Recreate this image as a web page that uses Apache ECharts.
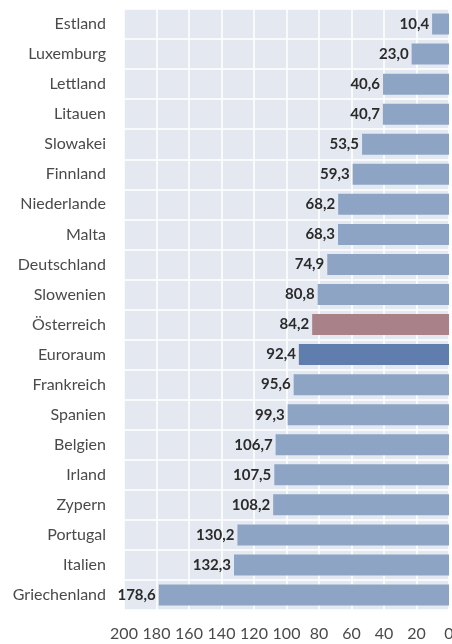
<!DOCTYPE html>
<html lang="de">
<head>
<meta charset="UTF-8">
<title>Staatsschulden</title>
<script src="https://cdn.jsdelivr.net/npm/echarts@6/dist/echarts.min.js"></script>
<style>
  html, body { margin: 0; padding: 0; background: #fff; }
  #main { width: 452px; height: 644px; }
</style>
</head>
<body>
<div id="main"></div>
<script>
// Länder von oben nach unten
var laender = ['Estland', 'Luxemburg', 'Lettland', 'Litauen', 'Slowakei', 'Finnland',
  'Niederlande', 'Malta', 'Deutschland', 'Slowenien', 'Österreich', 'Euroraum',
  'Frankreich', 'Spanien', 'Belgien', 'Irland', 'Zypern', 'Portugal', 'Italien', 'Griechenland'];
var werte = [10.4, 23.0, 40.6, 40.7, 53.5, 59.3, 68.2, 68.3, 74.9, 80.8, 84.2, 92.4,
  95.6, 99.3, 106.7, 107.5, 108.2, 130.2, 132.3, 178.6];
var xTicks = [0, 20, 40, 60, 80, 100, 120, 140, 160, 180, 200];

var farbeStd = '#8ea4c5';
var farben = { 'Österreich': '#a98289', 'Euroraum': '#607ead' };

var chart = echarts.init(document.getElementById('main'));

var option = {
  animation: false,
  textStyle: { fontFamily: 'Lato' },
  grid: {
    left: 124, right: 3, top: 9, bottom: 34,
    outerBoundsMode: 'none',
    show: true, backgroundColor: '#e4e9f1', borderWidth: 0
  },
  xAxis: {
    type: 'value',
    inverse: true,
    min: xTicks[0],
    max: xTicks[xTicks.length - 1],
    interval: 20,
    axisLine: { show: false },
    axisTick: { show: false },
    axisLabel: { color: '#4a4a4a', fontSize: 16, margin: 16 },
    splitLine: { lineStyle: { color: '#fff', width: 1.5 } }
  },
  yAxis: {
    type: 'category',
    inverse: true,
    data: laender,
    axisLine: { show: false },
    axisTick: { show: false },
    axisLabel: { color: '#4a4a4a', fontSize: 16, margin: 18 },
    splitLine: { show: true, lineStyle: { color: '#fff', width: 1.5 } }
  },
  series: [{
    type: 'bar',
    barWidth: 21,
    data: laender.map(function (l, i) {
      return { value: werte[i], itemStyle: { color: farben[l] || farbeStd } };
    }),
    label: {
      show: true,
      position: 'left',
      distance: 3,
      color: '#2b2b2b',
      fontSize: 15,
      fontWeight: 'bold',
      formatter: function (p) { return p.value.toFixed(1).replace('.', ','); }
    }
  }]
};

chart.setOption(option);
</script>
</body>
</html>
